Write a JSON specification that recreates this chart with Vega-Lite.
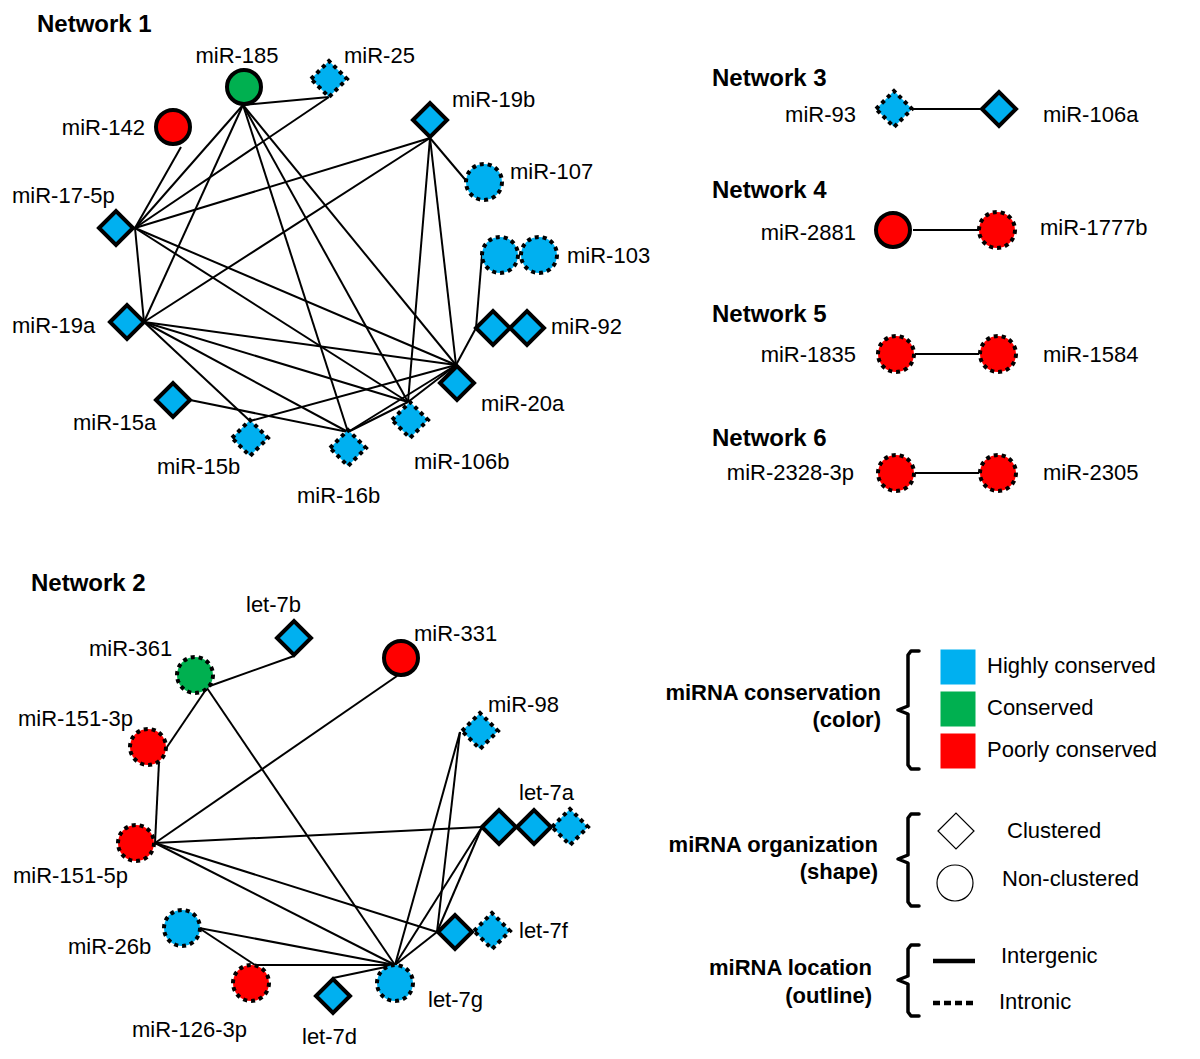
{
  "$schema": "https://vega.github.io/schema/vega-lite/v6.json",
  "width": 1200,
  "height": 1059,
  "padding": 0,
  "autosize": {"type": "fit", "contains": "padding"},
  "background": "white",
  "config": {"view": {"stroke": null}, "font": "Liberation Sans"},
  "datasets": {
    "edges": [
      {"x": 243, "y": 105, "x2": 329, "y2": 97},
      {"x": 243, "y": 105, "x2": 135, "y2": 228},
      {"x": 243, "y": 105, "x2": 144, "y2": 322},
      {"x": 243, "y": 105, "x2": 348, "y2": 432},
      {"x": 243, "y": 105, "x2": 408, "y2": 402},
      {"x": 243, "y": 105, "x2": 456, "y2": 365},
      {"x": 329, "y": 97, "x2": 135, "y2": 228},
      {"x": 181, "y": 147, "x2": 135, "y2": 228},
      {"x": 430, "y": 138, "x2": 135, "y2": 228},
      {"x": 430, "y": 138, "x2": 144, "y2": 322},
      {"x": 430, "y": 138, "x2": 468, "y2": 183},
      {"x": 430, "y": 138, "x2": 408, "y2": 402},
      {"x": 430, "y": 138, "x2": 456, "y2": 365},
      {"x": 135, "y": 228, "x2": 144, "y2": 322},
      {"x": 135, "y": 228, "x2": 456, "y2": 365},
      {"x": 135, "y": 228, "x2": 408, "y2": 402},
      {"x": 144, "y": 322, "x2": 456, "y2": 365},
      {"x": 144, "y": 322, "x2": 408, "y2": 402},
      {"x": 144, "y": 322, "x2": 348, "y2": 432},
      {"x": 144, "y": 322, "x2": 250, "y2": 421},
      {"x": 190, "y": 400, "x2": 348, "y2": 432},
      {"x": 250, "y": 421, "x2": 456, "y2": 365},
      {"x": 348, "y": 432, "x2": 456, "y2": 365},
      {"x": 348, "y": 432, "x2": 408, "y2": 402},
      {"x": 408, "y": 402, "x2": 456, "y2": 365},
      {"x": 482, "y": 255, "x2": 476, "y2": 328},
      {"x": 476, "y": 328, "x2": 456, "y2": 365},
      {"x": 294, "y": 656, "x2": 207, "y2": 687},
      {"x": 207, "y": 688, "x2": 167, "y2": 747},
      {"x": 207, "y": 688, "x2": 395, "y2": 965},
      {"x": 397, "y": 676, "x2": 155, "y2": 843},
      {"x": 159, "y": 762, "x2": 155, "y2": 843},
      {"x": 155, "y": 843, "x2": 482, "y2": 827},
      {"x": 155, "y": 843, "x2": 437, "y2": 932},
      {"x": 155, "y": 843, "x2": 395, "y2": 965},
      {"x": 460, "y": 732, "x2": 395, "y2": 965},
      {"x": 460, "y": 732, "x2": 437, "y2": 932},
      {"x": 482, "y": 827, "x2": 395, "y2": 965},
      {"x": 482, "y": 827, "x2": 437, "y2": 932},
      {"x": 437, "y": 932, "x2": 395, "y2": 965},
      {"x": 199, "y": 928, "x2": 395, "y2": 965},
      {"x": 199, "y": 928, "x2": 255, "y2": 965},
      {"x": 255, "y": 965, "x2": 395, "y2": 965},
      {"x": 333, "y": 978, "x2": 395, "y2": 965},
      {"x": 913, "y": 109, "x2": 981, "y2": 109},
      {"x": 913, "y": 230, "x2": 979, "y2": 230},
      {"x": 915, "y": 354, "x2": 979, "y2": 354},
      {"x": 915, "y": 473, "x2": 979, "y2": 473}
    ],
    "nodes": [
      {"name": "miR-185", "x": 244, "y": 87, "cons": "Conserved", "org": "Non-clustered", "loc": "Intergenic"},
      {"name": "miR-25", "x": 329, "y": 79, "cons": "Highly conserved", "org": "Clustered", "loc": "Intronic"},
      {"name": "miR-142", "x": 173, "y": 127, "cons": "Poorly conserved", "org": "Non-clustered", "loc": "Intergenic"},
      {"name": "miR-19b", "x": 430, "y": 120, "cons": "Highly conserved", "org": "Clustered", "loc": "Intergenic"},
      {"name": "miR-107", "x": 484, "y": 182, "cons": "Highly conserved", "org": "Non-clustered", "loc": "Intronic"},
      {"name": "miR-17-5p", "x": 116, "y": 228, "cons": "Highly conserved", "org": "Clustered", "loc": "Intergenic"},
      {"name": "miR-103", "x": 500, "y": 255, "cons": "Highly conserved", "org": "Non-clustered", "loc": "Intronic"},
      {"name": "miR-103", "x": 539, "y": 255, "cons": "Highly conserved", "org": "Non-clustered", "loc": "Intronic"},
      {"name": "miR-19a", "x": 127, "y": 322, "cons": "Highly conserved", "org": "Clustered", "loc": "Intergenic"},
      {"name": "miR-92", "x": 493, "y": 328, "cons": "Highly conserved", "org": "Clustered", "loc": "Intergenic"},
      {"name": "miR-92", "x": 527, "y": 328, "cons": "Highly conserved", "org": "Clustered", "loc": "Intergenic"},
      {"name": "miR-20a", "x": 457, "y": 383, "cons": "Highly conserved", "org": "Clustered", "loc": "Intergenic"},
      {"name": "miR-15a", "x": 173, "y": 400, "cons": "Highly conserved", "org": "Clustered", "loc": "Intergenic"},
      {"name": "miR-15b", "x": 250, "y": 438, "cons": "Highly conserved", "org": "Clustered", "loc": "Intronic"},
      {"name": "miR-16b", "x": 348, "y": 448, "cons": "Highly conserved", "org": "Clustered", "loc": "Intronic"},
      {"name": "miR-106b", "x": 410, "y": 420, "cons": "Highly conserved", "org": "Clustered", "loc": "Intronic"},
      {"name": "let-7b", "x": 294, "y": 638, "cons": "Highly conserved", "org": "Clustered", "loc": "Intergenic"},
      {"name": "miR-331", "x": 401, "y": 658, "cons": "Poorly conserved", "org": "Non-clustered", "loc": "Intergenic"},
      {"name": "miR-361", "x": 195, "y": 675, "cons": "Conserved", "org": "Non-clustered", "loc": "Intronic"},
      {"name": "miR-98", "x": 480, "y": 731, "cons": "Highly conserved", "org": "Clustered", "loc": "Intronic"},
      {"name": "miR-151-3p", "x": 148, "y": 747, "cons": "Poorly conserved", "org": "Non-clustered", "loc": "Intronic"},
      {"name": "let-7a", "x": 499, "y": 827, "cons": "Highly conserved", "org": "Clustered", "loc": "Intergenic"},
      {"name": "let-7a", "x": 534, "y": 827, "cons": "Highly conserved", "org": "Clustered", "loc": "Intergenic"},
      {"name": "let-7a", "x": 570, "y": 827, "cons": "Highly conserved", "org": "Clustered", "loc": "Intronic"},
      {"name": "miR-151-5p", "x": 136, "y": 843, "cons": "Poorly conserved", "org": "Non-clustered", "loc": "Intronic"},
      {"name": "miR-26b", "x": 182, "y": 928, "cons": "Highly conserved", "org": "Non-clustered", "loc": "Intronic"},
      {"name": "let-7f", "x": 455, "y": 932, "cons": "Highly conserved", "org": "Clustered", "loc": "Intergenic"},
      {"name": "let-7f", "x": 492, "y": 931, "cons": "Highly conserved", "org": "Clustered", "loc": "Intronic"},
      {"name": "miR-126-3p", "x": 251, "y": 983, "cons": "Poorly conserved", "org": "Non-clustered", "loc": "Intronic"},
      {"name": "let-7d", "x": 333, "y": 996, "cons": "Highly conserved", "org": "Clustered", "loc": "Intergenic"},
      {"name": "let-7g", "x": 395, "y": 983, "cons": "Highly conserved", "org": "Non-clustered", "loc": "Intronic"},
      {"name": "miR-93", "x": 894, "y": 109, "cons": "Highly conserved", "org": "Clustered", "loc": "Intronic"},
      {"name": "miR-106a", "x": 999, "y": 109, "cons": "Highly conserved", "org": "Clustered", "loc": "Intergenic"},
      {"name": "miR-2881", "x": 893, "y": 230, "cons": "Poorly conserved", "org": "Non-clustered", "loc": "Intergenic"},
      {"name": "miR-1777b", "x": 997, "y": 230, "cons": "Poorly conserved", "org": "Non-clustered", "loc": "Intronic"},
      {"name": "miR-1835", "x": 896, "y": 354, "cons": "Poorly conserved", "org": "Non-clustered", "loc": "Intronic"},
      {"name": "miR-1584", "x": 998, "y": 354, "cons": "Poorly conserved", "org": "Non-clustered", "loc": "Intronic"},
      {"name": "miR-2328-3p", "x": 896, "y": 473, "cons": "Poorly conserved", "org": "Non-clustered", "loc": "Intronic"},
      {"name": "miR-2305", "x": 998, "y": 473, "cons": "Poorly conserved", "org": "Non-clustered", "loc": "Intronic"}
    ],
    "labels_left": [
      {"text": "miR-25", "x": 344, "y": 56},
      {"text": "miR-19b", "x": 452, "y": 100},
      {"text": "miR-107", "x": 510, "y": 172},
      {"text": "miR-17-5p", "x": 12, "y": 196},
      {"text": "miR-103", "x": 567, "y": 256},
      {"text": "miR-19a", "x": 12, "y": 326},
      {"text": "miR-92", "x": 551, "y": 327},
      {"text": "miR-20a", "x": 481, "y": 404},
      {"text": "miR-15a", "x": 73, "y": 423},
      {"text": "miR-15b", "x": 157, "y": 467},
      {"text": "miR-16b", "x": 297, "y": 496},
      {"text": "miR-106b", "x": 414, "y": 462},
      {"text": "let-7b", "x": 246, "y": 605},
      {"text": "miR-331", "x": 414, "y": 634},
      {"text": "miR-361", "x": 89, "y": 649},
      {"text": "miR-98", "x": 488, "y": 705},
      {"text": "miR-151-3p", "x": 18, "y": 719},
      {"text": "let-7a", "x": 519, "y": 793},
      {"text": "miR-151-5p", "x": 13, "y": 876},
      {"text": "miR-26b", "x": 68, "y": 947},
      {"text": "let-7f", "x": 519, "y": 931},
      {"text": "miR-126-3p", "x": 132, "y": 1030},
      {"text": "let-7d", "x": 302, "y": 1037},
      {"text": "let-7g", "x": 428, "y": 1000},
      {"text": "miR-106a", "x": 1043, "y": 115},
      {"text": "miR-1777b", "x": 1040, "y": 228},
      {"text": "miR-1584", "x": 1043, "y": 355},
      {"text": "miR-2305", "x": 1043, "y": 473},
      {"text": "Highly conserved", "x": 987, "y": 666},
      {"text": "Conserved", "x": 987, "y": 708},
      {"text": "Poorly conserved", "x": 987, "y": 750},
      {"text": "Clustered", "x": 1007, "y": 831},
      {"text": "Non-clustered", "x": 1002, "y": 879},
      {"text": "Intergenic", "x": 1001, "y": 956},
      {"text": "Intronic", "x": 999, "y": 1002}
    ],
    "labels_right": [
      {"text": "miR-142", "x": 145, "y": 128},
      {"text": "miR-93", "x": 856, "y": 115},
      {"text": "miR-2881", "x": 856, "y": 233},
      {"text": "miR-1835", "x": 856, "y": 355},
      {"text": "miR-2328-3p", "x": 854, "y": 473}
    ],
    "labels_center": [
      {"text": "miR-185", "x": 237, "y": 56}
    ],
    "titles": [
      {"text": "Network 1", "x": 37, "y": 25},
      {"text": "Network 2", "x": 31, "y": 584},
      {"text": "Network 3", "x": 712, "y": 79},
      {"text": "Network 4", "x": 712, "y": 191},
      {"text": "Network 5", "x": 712, "y": 315},
      {"text": "Network 6", "x": 712, "y": 439}
    ],
    "legend_titles": [
      {"text": "miRNA conservation", "x": 881, "y": 693},
      {"text": "(color)", "x": 881, "y": 720},
      {"text": "miRNA organization", "x": 878, "y": 845},
      {"text": "(shape)", "x": 878, "y": 872},
      {"text": "miRNA location", "x": 872, "y": 968},
      {"text": "(outline)", "x": 872, "y": 996}
    ],
    "legend_colors": [
      {"cons": "Highly conserved", "x": 958, "y": 667},
      {"cons": "Conserved", "x": 958, "y": 709},
      {"cons": "Poorly conserved", "x": 958, "y": 751}
    ],
    "legend_shapes": [
      {"org": "Clustered", "x": 956, "y": 831},
      {"org": "Non-clustered", "x": 955, "y": 883}
    ],
    "legend_lines": [
      {"loc": "Intergenic", "x": 933, "x2": 975, "y": 961},
      {"loc": "Intronic", "x": 933, "x2": 973, "y": 1003}
    ],
    "braces": [
      {"brace": "color", "i": 1, "x": 919, "y": 651},
      {"brace": "color", "i": 2, "x": 911, "y": 651},
      {"brace": "color", "i": 3, "x": 908, "y": 655},
      {"brace": "color", "i": 4, "x": 908, "y": 706},
      {"brace": "color", "i": 5, "x": 898, "y": 710},
      {"brace": "color", "i": 6, "x": 908, "y": 714},
      {"brace": "color", "i": 7, "x": 908, "y": 765},
      {"brace": "color", "i": 8, "x": 911, "y": 769},
      {"brace": "color", "i": 9, "x": 919, "y": 769},
      {"brace": "shape", "i": 1, "x": 919, "y": 814},
      {"brace": "shape", "i": 2, "x": 911, "y": 814},
      {"brace": "shape", "i": 3, "x": 908, "y": 818},
      {"brace": "shape", "i": 4, "x": 908, "y": 855},
      {"brace": "shape", "i": 5, "x": 898, "y": 859},
      {"brace": "shape", "i": 6, "x": 908, "y": 863},
      {"brace": "shape", "i": 7, "x": 908, "y": 902},
      {"brace": "shape", "i": 8, "x": 911, "y": 906},
      {"brace": "shape", "i": 9, "x": 919, "y": 906},
      {"brace": "outline", "i": 1, "x": 919, "y": 945},
      {"brace": "outline", "i": 2, "x": 911, "y": 945},
      {"brace": "outline", "i": 3, "x": 908, "y": 949},
      {"brace": "outline", "i": 4, "x": 908, "y": 976},
      {"brace": "outline", "i": 5, "x": 898, "y": 980},
      {"brace": "outline", "i": 6, "x": 908, "y": 984},
      {"brace": "outline", "i": 7, "x": 908, "y": 1012},
      {"brace": "outline", "i": 8, "x": 911, "y": 1016},
      {"brace": "outline", "i": 9, "x": 919, "y": 1016}
    ]
  },
  "encoding": {
    "x": {"field": "x", "type": "quantitative", "scale": {"domain": [0, 1200], "range": [0, 1200], "nice": false, "zero": false}, "axis": null},
    "y": {"field": "y", "type": "quantitative", "scale": {"domain": [0, 1059], "range": [0, 1059], "nice": false, "zero": false}, "axis": null}
  },
  "layer": [
    {
      "data": {"name": "edges"},
      "mark": {"type": "rule", "color": "black", "strokeWidth": 2},
      "encoding": {"x2": {"field": "x2"}, "y2": {"field": "y2"}}
    },
    {
      "data": {"name": "nodes"},
      "transform": [{"filter": "datum.loc === 'Intergenic'"}],
      "mark": {"type": "point", "filled": true, "opacity": 1, "stroke": "black", "strokeWidth": 4, "size": 1156, "strokeJoin": "miter"},
      "encoding": {
        "fill": {"field": "cons", "type": "nominal", "scale": {"domain": ["Highly conserved", "Conserved", "Poorly conserved"], "range": ["#00B0F0", "#00B050", "#FF0000"]}, "legend": null},
        "shape": {"field": "org", "type": "nominal", "scale": {"domain": ["Clustered", "Non-clustered"], "range": ["diamond", "circle"]}, "legend": null}
      }
    },
    {
      "data": {"name": "nodes"},
      "transform": [{"filter": "datum.loc === 'Intronic'"}],
      "mark": {"type": "point", "filled": true, "opacity": 1, "stroke": "black", "strokeWidth": 4, "strokeDash": [4, 4], "strokeCap": "butt", "size": 1296},
      "encoding": {
        "fill": {"field": "cons", "type": "nominal", "legend": null},
        "shape": {"field": "org", "type": "nominal", "legend": null}
      }
    },
    {
      "data": {"name": "labels_left"},
      "mark": {"type": "text", "align": "left", "baseline": "middle", "fontSize": 22, "color": "black"},
      "encoding": {"text": {"field": "text"}}
    },
    {
      "data": {"name": "labels_right"},
      "mark": {"type": "text", "align": "right", "baseline": "middle", "fontSize": 22, "color": "black"},
      "encoding": {"text": {"field": "text"}}
    },
    {
      "data": {"name": "labels_center"},
      "mark": {"type": "text", "align": "center", "baseline": "middle", "fontSize": 22, "color": "black"},
      "encoding": {"text": {"field": "text"}}
    },
    {
      "data": {"name": "titles"},
      "mark": {"type": "text", "align": "left", "baseline": "middle", "fontSize": 24, "fontWeight": "bold", "color": "black"},
      "encoding": {"text": {"field": "text"}}
    },
    {
      "data": {"name": "legend_titles"},
      "mark": {"type": "text", "align": "right", "baseline": "middle", "fontSize": 22, "fontWeight": "bold", "color": "black"},
      "encoding": {"text": {"field": "text"}}
    },
    {
      "data": {"name": "legend_colors"},
      "mark": {"type": "point", "shape": "square", "filled": true, "opacity": 1, "size": 1225, "strokeWidth": 0},
      "encoding": {"fill": {"field": "cons", "type": "nominal", "legend": null}}
    },
    {
      "data": {"name": "legend_shapes"},
      "mark": {"type": "point", "filled": true, "fill": "white", "opacity": 1, "stroke": "black", "strokeWidth": 1.2, "size": 1296},
      "encoding": {"shape": {"field": "org", "type": "nominal", "legend": null}}
    },
    {
      "data": {"name": "legend_lines"},
      "transform": [{"filter": "datum.loc === 'Intergenic'"}],
      "mark": {"type": "rule", "color": "black", "strokeWidth": 4.5},
      "encoding": {"x2": {"field": "x2"}}
    },
    {
      "data": {"name": "legend_lines"},
      "transform": [{"filter": "datum.loc === 'Intronic'"}],
      "mark": {"type": "rule", "color": "black", "strokeWidth": 4.5, "strokeDash": [7, 4], "strokeCap": "butt"},
      "encoding": {"x2": {"field": "x2"}}
    },
    {
      "data": {"name": "braces"},
      "mark": {"type": "line", "color": "black", "strokeWidth": 3.5, "strokeJoin": "round", "strokeCap": "round"},
      "encoding": {"detail": {"field": "brace"}, "order": {"field": "i", "type": "quantitative"}}
    }
  ]
}
